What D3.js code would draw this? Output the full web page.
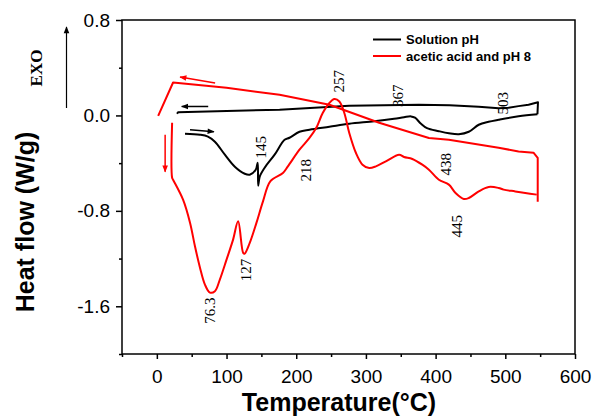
<!DOCTYPE html>
<meta charset="utf-8">
<style>

body {
  margin: 0;
  background: #fff;
}

text {
  font-family: "Liberation Sans", Arial, sans-serif;
}

.axis .tick text {
  font-size: 19px;
  fill: #000;
}

.axis path,
.axis line {
  stroke: #000;
  stroke-width: 1.5;
}

.peak {
  font: 15px "Liberation Serif", "Times New Roman", serif;
  fill: #000;
}

.legend text {
  font-size: 13px;
  font-weight: bold;
}

</style>
<body>
<script src="https://cdn.jsdelivr.net/npm/d3@7"></script>
<script>

// Solution pH: heating branch (lower), then the cooling line back (upper)
var blackHeat = [[40.4,-0.153],[61.9,-0.162],[73.3,-0.178],[83.3,-0.220],[97.6,-0.329],
  [111.9,-0.430],[126.1,-0.489],[133.3,-0.497],[141.9,-0.455],[144.7,-0.396],[145.4,-0.589],
  [147.6,-0.513],[154.7,-0.438],[169,-0.329],[183.3,-0.204],[190.4,-0.187],[204.7,-0.137],
  [219,-0.120],[247.6,-0.095],[276.1,-0.070],[311.9,-0.049],[340.4,-0.028],[354.7,-0.015],
  [364.7,-0.008],[370.4,-0.019],[379,-0.070],[387.6,-0.107],[404.7,-0.132],[419,-0.149],
  [433.3,-0.157],[447.6,-0.137],[461.9,-0.078],[476,-0.053],[490.4,-0.036],[519,-0.007],
  [546.1,0.010]];
var blackCool = [[546.1,0.010],[546.9,0.111],[533.3,0.090],[519,0.078],[504.7,0.064],
  [490.4,0.060],[461.9,0.073],[420,0.085],[376.1,0.090],[276,0.081],[176.1,0.048],
  [30.4,0.027],[29,0.014]];

// acetic acid and pH 8
var redHeat = [[21.9,-0.061],[21.9,-0.522],[23.3,-0.539],[37.6,-0.706],[47.6,-0.899],
  [54.7,-1.097],[61.9,-1.276],[69,-1.418],[76.1,-1.485],[83.3,-1.474],[90.4,-1.376],
  [100,-1.209],[109.4,-1.041],[116.6,-0.888],[124,-1.154],[126.1,-1.158],[133.3,-1.069],
  [142.9,-0.901],[152.3,-0.720],[163,-0.550],[180.9,-0.482],[188,-0.427],[204.7,-0.287],
  [219,-0.189],[228.6,-0.106],[238,0.020],[247.6,0.104],[254.7,0.137],[261.9,0.117],
  [269,0.020],[276.1,-0.147],[285.7,-0.315],[295.1,-0.413],[304.7,-0.441],[314.3,-0.427],
  [328.6,-0.385],[347.6,-0.329],[354.7,-0.348],[366.6,-0.365],[380.9,-0.413],[390.4,-0.455],
  [404.7,-0.539],[419,-0.580],[428.6,-0.650],[440.4,-0.700],[447.6,-0.692],[461.9,-0.637],
  [476.1,-0.600],[490.4,-0.608],[497.6,-0.622],[514.3,-0.637],[528.6,-0.650],[545.1,-0.664]];
var redCool = [[546.5,-0.723],[546.5,-0.355],[540.4,-0.312],[519,-0.302],[490.4,-0.271],
  [419,-0.204],[390.4,-0.189],[319,-0.061],[247.6,0.090],[176.1,0.173],[100,0.232],
  [23.3,0.276],[1.9,-0.003]];

// peak labels: text, temperature, heat flow position
var peaks = [["145",149,-0.266],["218",213.3,-0.459],["257",260.4,0.286],["367",345.4,0.165],
  ["503",496.1,0.102],["438",414,-0.409],["445",429.7,-0.928],["127",127.6,-1.296],
  ["76.3",76.1,-1.636]];

// direction arrows: from [t, v] to [t, v], colour
var arrows = [[[83.6,0.271],[33.3,0.322],"red"],[[73.7,0.075],[35.7,0.075],"black"],
  [[47.6,-0.120],[81.9,-0.137],"black"],[[11.9,-0.162],[11.9,-0.472],"red"]];

var xTicks = [0,100,200,300,400,500,600];
var xMinor = [-50,50,150,250,350,450,550];
var yTicks = [0.8,0.0,-0.8,-1.6];
var yTickLabels = ["0.8","0.0","-0.8","-1.6"];
var yMinor = [0.4,-0.4,-1.2,-2.0];
var seriesNames = ["Solution pH","acetic acid and pH 8"];
var seriesColors = ["black","red"];

var width = 593,
    height = 416,
    plotL = 122, plotR = 575, plotT = 20, plotB = 354;

var svg = d3.select("body").append("svg")
    .attr("width", width)
    .attr("height", height);

var x = d3.scaleLinear().domain([-50, 600]).range([plotL, plotR]);
var y = d3.scaleLinear().domain([-2.0, 0.8]).range([plotB, plotT]);

var defs = svg.append("defs");
seriesColors.forEach(function(c) {
  defs.append("marker")
      .attr("id", "head-" + c)
      .attr("viewBox", "0 0 10 10")
      .attr("refX", 9).attr("refY", 5)
      .attr("markerWidth", 9).attr("markerHeight", 7)
      .attr("markerUnits", "userSpaceOnUse")
      .attr("orient", "auto")
    .append("path")
      .attr("d", "M0,1L10,5L0,9Z")
      .attr("fill", c);
});

// frame
svg.append("rect")
    .attr("x", plotL).attr("y", plotT)
    .attr("width", plotR - plotL).attr("height", plotB - plotT)
    .attr("fill", "none").attr("stroke", "#000").attr("stroke-width", 1.5);

// axes
svg.append("g").attr("class", "axis")
    .attr("transform", "translate(0," + plotB + ")")
    .call(d3.axisBottom(x).tickValues(xTicks).tickSize(5).tickSizeOuter(0).tickPadding(11));
svg.append("g").attr("class", "axis")
    .attr("transform", "translate(0," + plotB + ")")
    .call(d3.axisBottom(x).tickValues(xMinor).tickSize(3).tickSizeOuter(0).tickFormat(""));
svg.append("g").attr("class", "axis")
    .attr("transform", "translate(" + plotL + ",0)")
    .call(d3.axisLeft(y).tickValues(yTicks).tickSize(6).tickSizeOuter(0).tickPadding(6)
      .tickFormat(function(d, i) { return yTickLabels[i]; }));
svg.append("g").attr("class", "axis")
    .attr("transform", "translate(" + plotL + ",0)")
    .call(d3.axisLeft(y).tickValues(yMinor).tickSize(3).tickSizeOuter(0).tickFormat(""));
svg.selectAll(".axis path.domain").remove();

// curves: smooth heating traces, straight-ish cooling traces
var smooth = d3.line()
    .x(function(d) { return x(d[0]); })
    .y(function(d) { return y(d[1]); })
    .curve(d3.curveCatmullRom.alpha(0.5));
var straight = d3.line()
    .x(function(d) { return x(d[0]); })
    .y(function(d) { return y(d[1]); });

[[blackHeat, smooth, "black"], [blackCool, straight, "black"],
 [redHeat, smooth, "red"], [redCool, straight, "red"]].forEach(function(s) {
  svg.append("path").datum(s[0])
      .attr("d", s[1])
      .attr("fill", "none")
      .attr("stroke", s[2])
      .attr("stroke-width", 2)
      .attr("stroke-linejoin", "round");
});

// arrows
svg.selectAll(".dir").data(arrows).enter().append("line")
    .attr("class", "dir")
    .attr("x1", function(d) { return x(d[0][0]); })
    .attr("y1", function(d) { return y(d[0][1]); })
    .attr("x2", function(d) { return x(d[1][0]); })
    .attr("y2", function(d) { return y(d[1][1]); })
    .attr("stroke", function(d) { return d[2]; })
    .attr("stroke-width", 1.5)
    .attr("marker-end", function(d) { return "url(#head-" + d[2] + ")"; });

// peak labels
svg.selectAll(".peak").data(peaks).enter().append("text")
    .attr("class", "peak")
    .attr("text-anchor", "middle")
    .attr("dy", "0.35em")
    .attr("transform", function(d) {
      return "translate(" + x(d[1]) + "," + y(d[2]) + ") rotate(-90)";
    })
    .text(function(d) { return d[0]; });

// legend
var legend = svg.append("g").attr("class", "legend");
seriesNames.forEach(function(name, i) {
  var ly = 39.5 + i * 16.5;
  legend.append("line")
      .attr("x1", 373).attr("x2", 401).attr("y1", ly).attr("y2", ly)
      .attr("stroke", seriesColors[i]).attr("stroke-width", 2);
  legend.append("text")
      .attr("x", 406).attr("y", ly).attr("dy", "0.36em")
      .text(name);
});

// EXO indicator
svg.append("line")
    .attr("x1", 66.5).attr("x2", 66.5).attr("y1", 108).attr("y2", 27)
    .attr("stroke", "black").attr("stroke-width", 1.2)
    .attr("marker-end", "url(#head-black)");
svg.append("text")
    .attr("transform", "translate(42,68) rotate(-90)")
    .attr("text-anchor", "middle")
    .style("font", "bold 17px 'Liberation Serif', 'Times New Roman', serif")
    .text("EXO");

// axis titles
svg.append("text")
    .attr("x", 339).attr("y", 411)
    .attr("text-anchor", "middle")
    .style("font-size", "25px").style("font-weight", "bold")
    .text("Temperature(\u00b0C)");
svg.append("text")
    .attr("transform", "translate(34,222) rotate(-90)")
    .attr("text-anchor", "middle")
    .style("font-size", "25px").style("font-weight", "bold")
    .text("Heat flow (W/g)");

</script>
